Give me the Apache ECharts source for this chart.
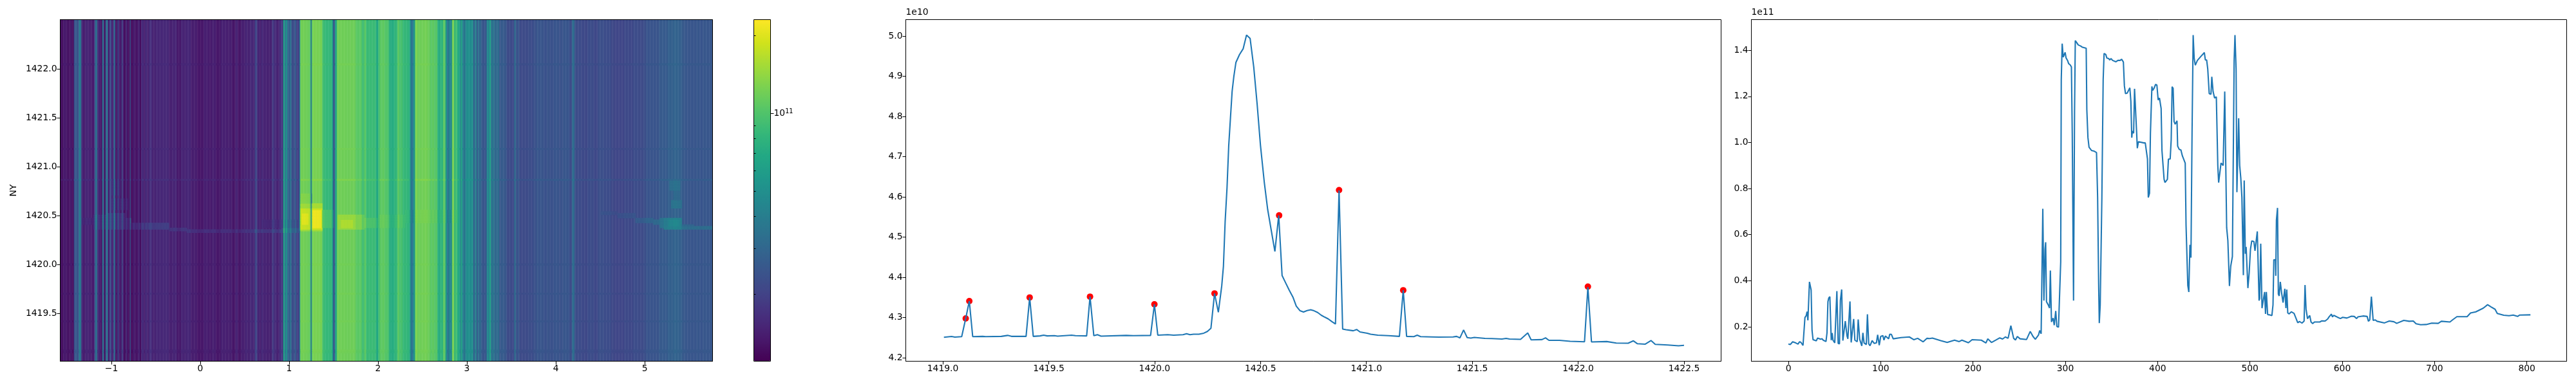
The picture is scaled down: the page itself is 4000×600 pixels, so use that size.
<!DOCTYPE html>
<html><head><meta charset="utf-8">
<style>html,body{margin:0;padding:0;background:#fff}#c{width:4000px;height:600px}</style>
<script src="https://cdn.jsdelivr.net/npm/echarts@6/dist/echarts.min.js"></script>
</head><body><div id="c"></div>
<script>
// ---- right panel: column profile (x = pixel index, y in units of 1e11) ----
const colIdx = [0,1,2,4.6,8,10.4,12,13.5,15.8,17.9,19.3,20.2,21.1,21.9,22.8,23.7,24.6,25.6,26.7,30.2,31.6,34.9,36.5,37.7,40.7,41.8,42.8,43.7,44.9,46.4,47.4,48.3,50.2,51,52.5,53.9,55.3,56.3,57.7,59,60,61.6,63.5,64.4,66.7,68,69.3,70.7,72,74.5,75.6,77.2,79.5,80.7,82,84.4,85.6,87,88.4,90.7,93,95.3,96.7,98.4,100,102.3,103.5,105,108.6,109.8,111.6,113.5,
122,131,136,140,146,150,153,156,165,172,180,185,188,195,199,209,214,216,220,225,229,232,235,238,241,244,246,248,251,258,262,265,
267.5,271,272.2,273.8,275.6,276.8,278,278.7,279.6,281.5,282.9,283.8,285,286.1,286.8,288,289.6,290.8,292.6,293.8,295,295.6,296.6,297.7,298.7,299.8,300.8,302.4,303.6,305.2,306.6,307.5,308.9,310,310.8,312.4,314,316.4,318.2,322.6,323.3,324.5,325.7,328.4,330.8,333.8,335,336.1,336.8,337.8,339.6,341,342,343.8,345,347,348,349.6,351.2,354.7,357,359.4,361,362.9,364,365.2,367,369.9,371,372,372.6,374,375,375.9,377.3,378,379.2,385,386.6,387.8,389,389.9,391.2,392.2,393.8,394.7,396.1,397.8,399.2,400.6,401.3,402,403.8,404.7,407,408,410.6,411.7,413.6,414.7,415.7,416.8,417.8,419,421,421.7,423.4,425.2,426.8,428,429.9,430.8,432.7,433.8,
435,436.1,437.3,438.5,439.6,440.8,443.1,446.6,450.6,451.7,453.1,454.3,455.9,457.8,458.7,460.1,461.7,463.6,465.2,466.1,467.1,468.7,471,472.7,473.4,474.8,476.1,477.8,479.2,481,482,482.9,483.8,485,485.9,487.8,488.9,490.1,491.3,492.9,493.8,495,495.9,497.8,499.2,500.6,502,504.3,505.5,506.4,508,509.9,510.6,511.7,513.1,513.8,515.9,516.9,517.8,519.2,521,522.2,523.8,525,525.9,527.6,528,528.7,529.9,530.8,531.7,532.9,534.5,535.9,536.9,537.8,539,539.9,541,542.4,544.8,547.8,549.4,551.8,553.8,556.4,558.7,559.7,560.8,562.4,564.8,566.2,568,569.9,575.7,578,581.5,584.3,585.7,586.9,588.3,589.4,590.8,592.7,594.7,
598,600.5,605,610,613,615.6,617,622.5,627,628.4,629.8,631.6,632.5,633.5,635.8,637.7,645.8,647,651,656,659,666.7,672.6,677,680,685,691,697,704,707.4,716.7,719.5,724.2,735.3,739,744.7,752.8,757.5,761,765.6,768,775,780.7,785.3,790,792.3,803.9];
const colValues = [.125,.127,.123,.135,.13,.125,.135,.133,.119,.24,.249,.266,.228,.228,.395,.393,.36,.184,.144,.139,.151,.146,.148,.142,.136,.174,.309,.325,.331,.142,.173,.142,.13,.133,.355,.128,.126,.314,.362,.14,.139,.225,.16,.148,.31,.132,.13,.234,.142,.135,.232,.146,.117,.174,.13,.123,.254,.126,.118,.14,.128,.13,.165,.12,.158,.162,.142,.16,.148,.168,.167,.148,
.153,.156,.144,.15,.135,.15,.149,.151,.14,.132,.142,.136,.142,.131,.144,.142,.13,.148,.132,.143,.152,.147,.156,.15,.205,.15,.143,.158,.148,.145,.18,.158,
.146,.165,.184,.17,.712,.314,.537,.567,.309,.295,.281,.444,.221,.219,.238,.207,.269,.202,.198,.2,.482,1.272,1.429,1.37,1.365,1.391,1.367,1.356,1.342,1.337,1.328,1.04,.314,1.133,1.442,1.433,1.423,1.419,1.414,1.409,1.142,1.021,.979,.965,.963,.956,.761,.388,.216,.295,.761,1.272,1.386,1.382,1.366,1.364,1.358,1.364,1.356,1.35,1.356,1.356,1.361,1.349,1.245,1.212,1.214,1.237,1.179,1.021,1.049,1.04,1.233,1.236,1.04,.975,1.003,.998,.998,.998,.928,.761,.779,1.04,1.243,1.226,1.235,1.252,1.249,1.184,1.179,1.193,1.147,.965,.84,.826,.84,.928,.928,1.012,1.242,1.235,1.091,1.079,1.094,.984,.97,.968,.942,.94,.91,.64,.379,.351,
.556,.5,1.04,1.466,1.366,1.335,1.356,1.372,1.39,1.358,1.358,1.319,1.212,1.209,1.285,1.221,1.193,1.198,.9,.826,.828,.911,.9,1.221,1.221,.63,.574,.377,.463,.505,.505,1.356,1.466,1.319,.784,1.105,.9,.846,.761,.424,.835,.517,.547,.368,.435,.537,.573,.57,.53,.528,.614,.314,.323,.561,.281,.277,.351,.256,.351,.253,.252,.247,.249,.295,.491,.491,.421,.663,.716,.342,.334,.395,.342,.305,.3,.365,.281,.362,.26,.256,.265,.258,.242,.218,.223,.216,.225,.381,.277,.235,.249,.221,.214,.221,.221,.226,.225,.234,.243,.24,.255,.243,.25,.246,.242,
.236,.241,.238,.246,.245,.236,.243,.247,.245,.224,.23,.331,.331,.228,.23,.224,.217,.213,.225,.222,.215,.228,.224,.225,.213,.209,.21,.216,.215,.224,.221,.23,.244,.244,.26,.265,.281,.296,.287,.276,.258,.25,.248,.251,.245,.251,.252];

// ---- middle panel: row profile (x = NY, y in units of 1e10) ----
const rowX = [1419.005,1419.041,1419.057,1419.089,1419.108,1419.125,1419.141,1419.188,1419.203,1419.276,1419.306,1419.324,1419.393,1419.41,1419.427,1419.459,1419.476,1419.493,1419.527,1419.542,1419.608,1419.626,1419.679,1419.695,1419.713,1419.73,1419.747,1419.866,1419.9,1419.981,1419.999,1420.015,1420.062,1420.09,1420.134,1420.151,1420.167,1420.184,1420.209,1420.232,1420.249,1420.266,1420.283,1420.301,1420.317,1420.325,1420.333,1420.342,1420.35,1420.358,1420.366,1420.374,1420.384,1420.401,1420.418,1420.434,1420.451,1420.468,1420.484,1420.5,1420.518,1420.534,1420.552,1420.568,1420.586,1420.602,1420.619,1420.636,1420.653,1420.669,1420.687,1420.703,1420.72,1420.737,1420.753,1420.77,1420.787,1420.804,1420.82,1420.837,1420.854,1420.871,1420.888,1420.904,1420.938,1420.954,1420.97,1421.004,1421.02,1421.054,1421.104,1421.156,1421.174,1421.19,1421.224,1421.24,1421.256,1421.308,1421.342,1421.409,1421.426,1421.442,1421.459,1421.476,1421.493,1421.51,1421.56,1421.592,1421.64,1421.66,1421.676,1421.728,1421.762,1421.778,1421.829,1421.846,1421.862,1421.912,1421.962,1422.03,1422.046,1422.063,1422.135,1422.18,1422.236,1422.261,1422.279,1422.317,1422.344,1422.364,1422.423,1422.474,1422.5];
const rowValues = [4.251,4.253,4.2515,4.2527,4.298,4.341,4.2527,4.2533,4.2527,4.2533,4.2557,4.2533,4.2533,4.35,4.2533,4.2545,4.2563,4.2545,4.255,4.254,4.2563,4.255,4.2545,4.352,4.255,4.2575,4.254,4.2557,4.255,4.2557,4.333,4.2563,4.2575,4.2563,4.2575,4.26,4.2575,4.2588,4.2588,4.2612,4.2655,4.2735,4.36,4.3133,4.3788,4.4277,4.5379,4.6236,4.7276,4.795,4.8623,4.899,4.9345,4.954,4.9682,5.0024,4.9939,4.9235,4.8317,4.7276,4.6358,4.5685,4.5134,4.4644,4.554,4.4045,4.3861,4.3678,4.3512,4.3286,4.3169,4.3139,4.3175,4.3194,4.3169,4.3127,4.3059,4.301,4.2967,4.29,4.2839,4.6162,4.2716,4.2698,4.2673,4.2704,4.2643,4.2612,4.2588,4.2563,4.2551,4.2533,4.3683,4.2533,4.2527,4.2563,4.2527,4.252,4.2514,4.252,4.2533,4.2496,4.2692,4.2502,4.249,4.2508,4.2484,4.2478,4.2466,4.2484,4.2466,4.246,4.2618,4.2447,4.2453,4.2496,4.2435,4.2435,4.241,4.2398,4.3757,4.2395,4.2405,4.2368,4.2364,4.2422,4.2352,4.234,4.243,4.2336,4.2318,4.2298,4.231];
const peakX = [1419.108,1419.125,1419.41,1419.695,1419.999,1420.283,1420.588,1420.871,1421.174,1422.046];
const peakY = [4.298,4.341,4.35,4.352,4.333,4.36,4.554,4.617,4.368,4.377];

// ---- left panel: brighter regions of the image ----
const regionX0 = [-1.35,-1.2,-1.05,-1.0,-1.0,-.95,-.78,-.6,-.35,-.15,.2,.6,.92,.7, 1.12,1.12,1.14,1.26,1.37,1.12, 1.55,1.58,1.85,2.0,2.3, 4.5,4.7,4.9,5.1,5.17,5.22,5.27,5.42,5.42,5.3,5.28,5.33];
const regionX1 = [-1.2,-1.05,-.85,-.8,-.9,-.78,-.6,-.35,-.15,.2,.6,.92,1.12,1.12, 1.37,1.37,1.22,1.36,1.5,1.25, 1.85,1.72,2.0,2.3,2.9, 4.7,4.9,5.1,5.2,5.42,5.42,5.39,5.76,5.55,5.42,5.4,5.4];
const regionY0 = [1420.4,1420.36,1420.35,1420.55,1420.7,1420.36,1420.35,1420.36,1420.34,1420.325,1420.32,1420.325,1420.33,1420.37, 1420.34,1420.36,1420.4,1420.38,1420.37,1420.6, 1420.36,1420.38,1420.38,1420.38,1420.42, 1420.5,1420.47,1420.43,1420.4,1420.37,1420.36,1420.39,1420.36,1420.385,1420.58,1420.75,1420.66];
const regionY1 = [1420.47,1420.5,1420.52,1420.68,1420.85,1420.48,1420.42,1420.42,1420.38,1420.36,1420.36,1420.365,1420.37,1420.45, 1420.63,1420.58,1420.52,1420.55,1420.55,1420.72, 1420.5,1420.46,1420.48,1420.5,1420.55, 1420.54,1420.52,1420.48,1420.46,1420.48,1420.47,1420.45,1420.39,1420.41,1420.66,1420.85,1420.75];
const regionGain = [1.06,1.14,1.22,1.1,1.1,1.18,1.2,1.25,1.2,1.2,1.17,1.22,1.24,1.05, 1.25,1.5,1.7,1.74,1.15,1.1, 1.22,1.35,1.12,1.06,1.04, 1.07,1.12,1.2,1.28,1.35,1.5,1.6,1.3,1.2,1.25,1.2,1.08];

// ---- tick labels ----
const heatXTicks = [-1,0,1,2,3,4,5];
const heatYTicks = [1419.5,1420,1420.5,1421,1421.5,1422];
const rowXTicks = [1419,1419.5,1420,1420.5,1421,1421.5,1422,1422.5];
const rowYTicks = [4.2,4.3,4.4,4.5,4.6,4.7,4.8,4.9,5.0];
const colXTicks = [0,100,200,300,400,500,600,700,800];
const colYTicks = [.2,.4,.6,.8,1.0,1.2,1.4];
const cbarMinorTicks = [2e10,3e10,4e10,5e10,6e10,7e10,8e10,9e10,2e11];
const cbarMajorTicks = [1e11];
const viridis = ['#440154','#481a6c','#472f7d','#414487','#39568c','#31688e','#2a788e','#23888e','#1f988b','#22a884','#35b779','#54c568','#7ad151','#a5db36','#d2e21b','#fde725'];

const vMin = 1.1e10, vMax = 2.31e11;
const heatXMin = -1.576, heatXMax = 5.764, heatYMin = 1419.01, heatYMax = 1422.505;
const nCols = 804, nRows = 210, rowFloor = 4.25;

// the image's bright stripes sit slightly below the plotted row
function stripeValue(v) {
  const k = v >= .6 ? .87 : 1 - .13 * Math.max(0, (v - .25) / .35);
  return v * k * 1e11;
}
function nearestCol(c) {
  let best = 0;
  for (let i = 0; i < colIdx.length; i++) if (Math.abs(colIdx[i] - c) < Math.abs(colIdx[best] - c)) best = i;
  return colValues[best];
}
const colCats = [], stripeData = [], colBase = [];
for (let c = 0; c < nCols; c++) {
  colCats.push(c);
  colBase.push(stripeValue(nearestCol(c)));
  stripeData.push([c, 0, Math.log10(colBase[c])]);
}
const fineCats = [], detailData = [];
const dy = (heatYMax - heatYMin) / nRows, dx = (heatXMax - heatXMin) / nCols;
for (let r = 0; r < nRows; r++) {
  fineCats.push(r);
  const y = heatYMin + (r + .5) * dy;
  let rowGain = 1;
  peakX.forEach((p, i) => { if (Math.abs(p - y) <= dy / 2 && (p < 1420.25 || p > 1420.6)) rowGain = peakY[i] / rowFloor; });
  const active = regionY0.map((y0, i) => y >= y0 && y < regionY1[i] ? i : -1).filter(i => i >= 0);
  if (rowGain === 1 && !active.length) continue;
  for (let c = 0; c < nCols; c++) {
    const x = heatXMin + (c + .5) * dx;
    let g = 1;
    active.forEach(i => { if (x >= regionX0[i] && x < regionX1[i] && regionGain[i] > g) g = regionGain[i]; });
    g *= rowGain;
    if (g > 1) detailData.push([c, r, Math.log10(colBase[c] * g)]);
  }
}

const FONT = 'DejaVu Sans', FS = 13.9;
const grids = [
  {left: 93.5, top: 30.5, width: 1013, height: 531},
  {left: 1170.5, top: 30.5, width: 26, height: 531},
  {left: 1406.5, top: 30.5, width: 1266, height: 531},
  {left: 2719.5, top: 30.5, width: 1266, height: 531}
].map(g => Object.assign(g, {show: true, borderColor: '#000', borderWidth: 1, containLabel: false, backgroundColor: 'transparent'}));

function valAxis(extra, ticks, fmt) {
  return Object.assign({
    type: 'value', scale: true,
    splitLine: {show: false},
    axisLine: {show: true, onZero: false, lineStyle: {color: '#000', width: 1}},
    axisTick: {show: true, length: 5, lineStyle: {color: '#000', width: 1}, customValues: ticks},
    axisLabel: {show: true, color: '#000', fontFamily: FONT, fontSize: FS, margin: 5, customValues: ticks, formatter: fmt, hideOverlap: false, showMinLabel: true, showMaxLabel: true}
  }, extra);
}
const hiddenCat = (extra) => Object.assign({type: 'category', show: false, boundaryGap: true}, extra);
const fmt1 = v => v.toFixed(1);
const offsetName = {fontFamily: FONT, fontSize: FS, color: '#000', align: 'left', verticalAlign: 'bottom'};

const option = {
  animation: false,
  backgroundColor: '#fff',
  grid: grids,
  visualMap: {
    type: 'continuous', min: Math.log10(vMin), max: Math.log10(vMax), dimension: 2, seriesIndex: [0, 1],
    left: 1170, top: 30, itemWidth: 27, itemHeight: 531, padding: 0, calculable: false, hoverLink: false,
    text: null, showLabel: false, z: -1, inRange: {color: viridis}
  },
  xAxis: [
    valAxis({gridIndex: 0, position: 'bottom', min: heatXMin, max: heatXMax}, heatXTicks, v => String(v).replace('-', '\u2212')),
    hiddenCat({gridIndex: 0, position: 'top', data: colCats}),
    {gridIndex: 1, type: 'value', show: false, min: 0, max: 1},
    valAxis({gridIndex: 2, position: 'bottom', min: 1418.825, max: 1422.675}, rowXTicks, fmt1),
    valAxis({gridIndex: 3, position: 'bottom', min: -40.15, max: 843.15}, colXTicks, v => String(v))
  ],
  yAxis: [
    valAxis({gridIndex: 0, position: 'left', min: heatYMin, max: heatYMax, name: 'NY', nameLocation: 'middle', nameGap: 65,
      nameRotate: 90, nameTextStyle: {fontFamily: FONT, fontSize: FS, color: '#000'}}, heatYTicks, fmt1),
    hiddenCat({gridIndex: 0, position: 'right', data: ['all']}),
    hiddenCat({gridIndex: 0, position: 'right', data: fineCats}),
    // colour bar: minor ticks on one axis, the labelled decade on another
    valAxis({gridIndex: 1, position: 'right', min: Math.log10(vMin), max: Math.log10(vMax),
      axisLine: {show: false},
      axisTick: {show: true, length: 3, lineStyle: {color: '#000', width: 1}, customValues: cbarMinorTicks.map(Math.log10)},
      axisLabel: {show: false}}, [], null),
    valAxis({gridIndex: 1, position: 'right', min: Math.log10(vMin), max: Math.log10(vMax), offset: 0,
      axisLine: {show: false},
      axisLabel: {show: true, margin: 5, customValues: cbarMajorTicks.map(Math.log10), formatter: () => '{a|10}{b|11}',
        rich: {a: {fontFamily: FONT, fontSize: FS, color: '#000'}, b: {fontFamily: FONT, fontSize: 9.7, color: '#000', verticalAlign: 'bottom', padding: [0, 0, 7, 0]}}},
      axisTick: {show: true, length: 5, lineStyle: {color: '#000', width: 1}, customValues: cbarMajorTicks.map(Math.log10)}}, [], null),
    valAxis({gridIndex: 2, position: 'left', min: 4.1915, max: 5.0408, name: '1e10', nameLocation: 'end', nameGap: 4, nameTextStyle: offsetName}, rowYTicks, fmt1),
    valAxis({gridIndex: 3, position: 'left', min: 0.0506, max: 1.533, name: '1e11', nameLocation: 'end', nameGap: 4, nameTextStyle: offsetName}, colYTicks, fmt1)
  ],
  series: [
    {type: 'heatmap', xAxisIndex: 1, yAxisIndex: 1, data: stripeData, z: -2, progressive: 0, silent: true, emphasis: {disabled: true}},
    {type: 'heatmap', xAxisIndex: 1, yAxisIndex: 2, data: detailData, z: -1, progressive: 0, silent: true, emphasis: {disabled: true}},
    {type: 'line', xAxisIndex: 3, yAxisIndex: 5, data: rowX.map((x, i) => [x, rowValues[i]]), showSymbol: false, silent: true,
      lineStyle: {color: '#1f77b4', width: 2.08}, itemStyle: {color: '#1f77b4'}},
    {type: 'scatter', xAxisIndex: 3, yAxisIndex: 5, data: peakX.map((x, i) => [x, peakY[i]]), symbolSize: 10, silent: true, itemStyle: {color: '#ff0000', opacity: 1}},
    {type: 'line', xAxisIndex: 4, yAxisIndex: 6, data: colIdx.map((x, i) => [x, colValues[i]]), showSymbol: false, silent: true,
      lineStyle: {color: '#1f77b4', width: 2.08}, itemStyle: {color: '#1f77b4'}}
  ]
};
const chart = echarts.init(document.getElementById('c'), null, {renderer: 'canvas', width: 4000, height: 600});
chart.setOption(option);
</script></body></html>
